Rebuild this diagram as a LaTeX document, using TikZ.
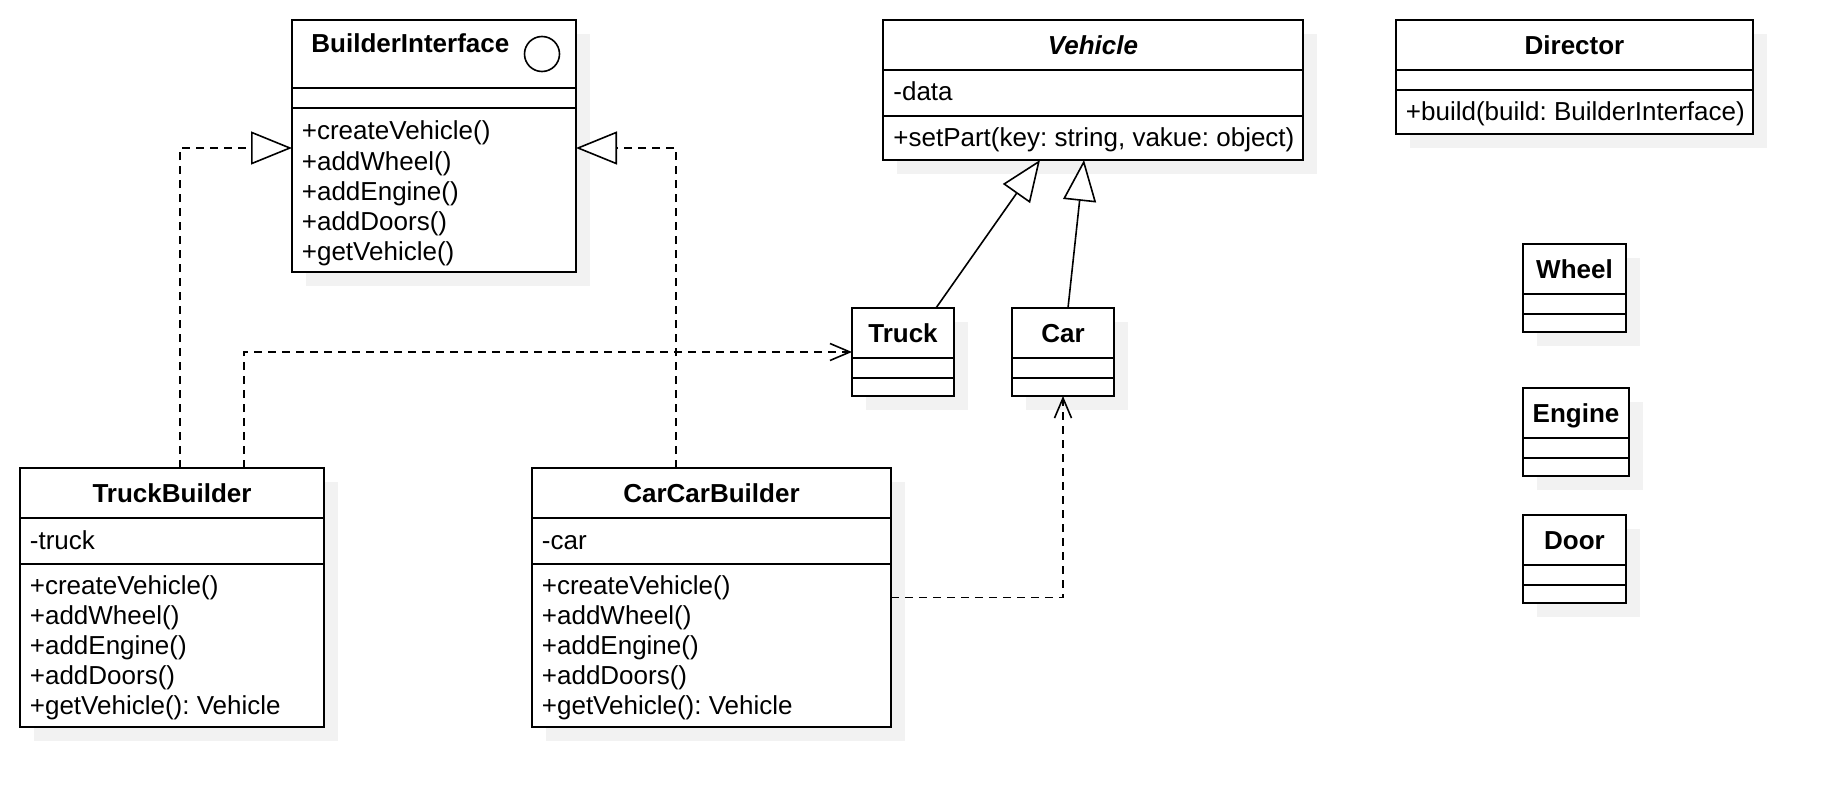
\documentclass[tikz,border=0pt]{standalone}
\usepackage{fontspec}
\setmainfont{Liberation Sans}
\usetikzlibrary{arrows.meta, shadows}

\newcommand\umlfont{\fontsize{13}{15}\selectfont\frenchspacing}

\tikzset{
  umlclass/.style={draw, fill=white, line width=0.8pt, anchor=north west, inner sep=0pt, outer sep=0pt,
    drop shadow={shadow xshift=7pt, shadow yshift=-7pt, fill=black!5, opacity=1}},
  umltitle/.style={font=\umlfont\bfseries, inner sep=0pt, text height=9.3pt, text depth=0pt},
  umltext/.style={font=\umlfont, anchor=base west, inner sep=0pt},
  compart/.style={line width=0.8pt},
  inherit/.style={line width=0.8pt, -{Triangle[fill=white, length=20.5pt, width=16.5pt]}},
  realize/.style={inherit, dash pattern=on 4pt off 3pt},
  depend/.style={line width=0.8pt, dash pattern=on 4pt off 3pt, -{Straight Barb[length=10pt, width=8.5pt]}}
}

\newcommand\umlbox[7]{%
  \node[umlclass, minimum width=#4*0.5pt, minimum height=#5*0.5pt] (#1) at (#2,#3) {};
  \draw[compart] (#2,#6) -- ++(#4,0) (#2,#7) -- ++(#4,0);
}

\begin{document}
\begin{tikzpicture}[x=0.5pt, y=-0.5pt]
  \useasboundingbox (0,0) rectangle (1832,808);

  \umlbox{bi}{292}{20}{284}{252}{88}{108}
  \node[umltitle, anchor=base west] (bi-t) at (311,53) {BuilderInterface};
  \node[draw, circle, line width=0.8pt, minimum size=17.5pt, inner sep=0pt] (bi-c) at (542,54) {};
  \foreach \m [count=\k from 0] in {+createVehicle(), +addWheel(), +addEngine(), +addDoors(), +getVehicle()}
    \node[umltext] (bi-m\k) at (301.5,140+30*\k) {\m};

  \umlbox{veh}{883}{20}{420}{140}{70}{116}
  \node[umltitle, font=\umlfont\bfseries\itshape] (veh-t) at (1093,45) {Vehicle};
  \node[umltext] (veh-a) at (893,101) {-data};
  \node[umltext] (veh-m) at (893,147) {+setPart(key: string, vakue: object)};

  \umlbox{dir}{1396}{20}{357}{114}{70}{90}
  \node[umltitle] (dir-t) at (1574.5,45) {Director};
  \node[umltext] (dir-m) at (1405.5,121) {+build(build: BuilderInterface)};

  \foreach \name/\lbl/\x/\y/\w in {truck/Truck/852/308/102, car/Car/1012/308/102,
      wheel/Wheel/1523/244/103, engine/Engine/1523/388/106, door/Door/1523/515/103} {
    \umlbox{\name}{\x}{\y}{\w}{88}{\y+50}{\y+70}
    \node[umltitle] (\name-t) at (\x+\w/2,\y+25) {\lbl};
  }

  \umlbox{tb}{20}{468}{304}{259}{518}{564}
  \node[umltitle] (tb-t) at (172,493) {TruckBuilder};
  \node[umltext] (tb-a) at (29.5,549) {-truck};
  \foreach \m [count=\k from 0] in {+createVehicle(), +addWheel(), +addEngine(), +addDoors(), +getVehicle(): Vehicle}
    \node[umltext] (tb-m\k) at (29.5,594.5+30*\k) {\m};

  \umlbox{ccb}{532}{468}{359}{259}{518}{564}
  \node[umltitle] (ccb-t) at (711.5,493) {CarCarBuilder};
  \node[umltext] (ccb-a) at (541.5,549) {-car};
  \foreach \m [count=\k from 0] in {+createVehicle(), +addWheel(), +addEngine(), +addDoors(), +getVehicle(): Vehicle}
    \node[umltext] (ccb-m\k) at (541.5,594.5+30*\k) {\m};

  \draw[realize] ([xshift=80pt]tb.north west) |- ([yshift=-1pt]bi.west);
  \draw[realize] ([xshift=72pt]ccb.north west) |- ([yshift=-1pt]bi.east);
  \draw[depend] ([xshift=112pt]tb.north west) |- (truck.west);
  \draw[depend] (ccb.east) -| (car.south);
  \draw[inherit] ([xshift=-9pt]truck.north east) -- ([xshift=-26.5pt]veh.south);
  \draw[inherit] ([xshift=2.5pt]car.north) -- ([xshift=-4.5pt]veh.south);
\end{tikzpicture}
\end{document}
